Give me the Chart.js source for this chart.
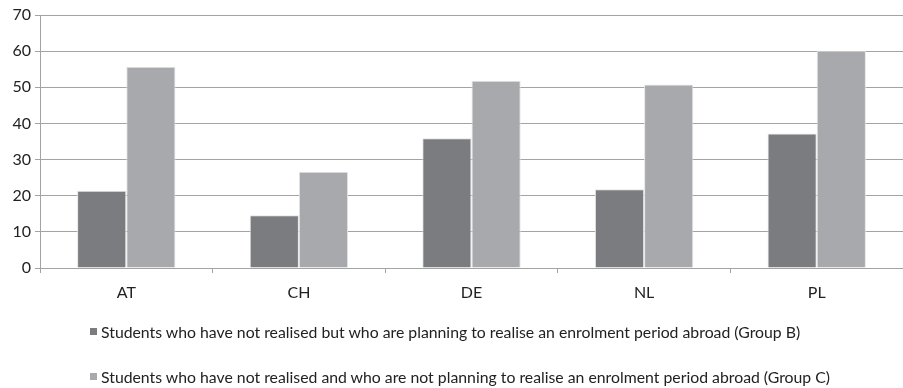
<!DOCTYPE html>
<html>
<head>
<meta charset="utf-8">
<script src="https://cdn.jsdelivr.net/npm/chart.js@4"></script>
<style>
  html, body { margin: 0; padding: 0; background: #fff; }
  #wrap { position: relative; width: 903px; height: 388px; }
  #legend { position: absolute; left: 90px; top: 322px; font-family: Lato, sans-serif; font-size: 15.8px; color: #222; }
  .item { position: absolute; left: 0; white-space: nowrap; line-height: 20px; }
  .box { display: inline-block; width: 7px; height: 7px; margin-right: 4px; vertical-align: 3px; }
</style>
</head>
<body>
<div id="wrap">
  <canvas id="c" width="903" height="388"></canvas>
  <div id="legend"></div>
</div>
<script>
const countries = ['AT', 'CH', 'DE', 'NL', 'PL'];
const groupB = [21.4, 14.6, 35.9, 21.8, 37.2];
const groupC = [55.7, 26.6, 51.8, 50.8, 60.1];
const seriesNames = [
  'Students who have not realised but who are planning to realise an enrolment period abroad (Group B)',
  'Students who have not realised and who are not planning to realise an enrolment period abroad (Group C)'
];
const yTicks = [0, 10, 20, 30, 40, 50, 60, 70];

const colB = '#7b7c7f';
const colC = '#a8a9ac';
const gridCol = '#a3a3a3';
const font = { family: 'Lato, sans-serif', size: 16 };

const chart = new Chart(document.getElementById('c'), {
  type: 'bar',
  data: {
    labels: countries,
    datasets: [
      { label: seriesNames[0], data: groupB, backgroundColor: colB, borderColor: '#e4e4e4', borderWidth: 1 },
      { label: seriesNames[1], data: groupC, backgroundColor: colC, borderColor: '#e4e4e4', borderWidth: 1 }
    ]
  },
  options: {
    responsive: false,
    animation: false,
    layout: { padding: { top: 15, right: 0, left: 0, bottom: 0 } },
    datasets: { bar: { barPercentage: 1.0, categoryPercentage: 0.57 } },
    plugins: { legend: { display: false }, tooltip: { enabled: false } },
    scales: {
      x: {
        grid: { display: true, drawOnChartArea: false, drawTicks: true, tickLength: 5, color: gridCol, offset: true },
        border: { display: true, color: gridCol },
        ticks: { color: '#222', font: font, padding: 10 },
        afterFit: s => { s.height = 120; }
      },
      y: {
        min: 0, max: 70,
        afterBuildTicks: s => { s.ticks = yTicks.map(v => ({ value: v })); },
        grid: { color: gridCol, tickLength: 5 },
        border: { display: true, color: gridCol },
        ticks: { color: '#222', font: font, padding: 4 },
        afterFit: s => { s.width = 40; }
      }
    }
  }
});

// legend below the plot, one series per row
const legend = document.getElementById('legend');
chart.data.datasets.forEach((ds, i) => {
  const row = document.createElement('div');
  row.className = 'item';
  row.style.top = (i * 45) + 'px';
  const box = document.createElement('span');
  box.className = 'box';
  box.style.background = ds.backgroundColor;
  row.appendChild(box);
  row.appendChild(document.createTextNode(ds.label));
  legend.appendChild(row);
});
</script>
</body>
</html>
